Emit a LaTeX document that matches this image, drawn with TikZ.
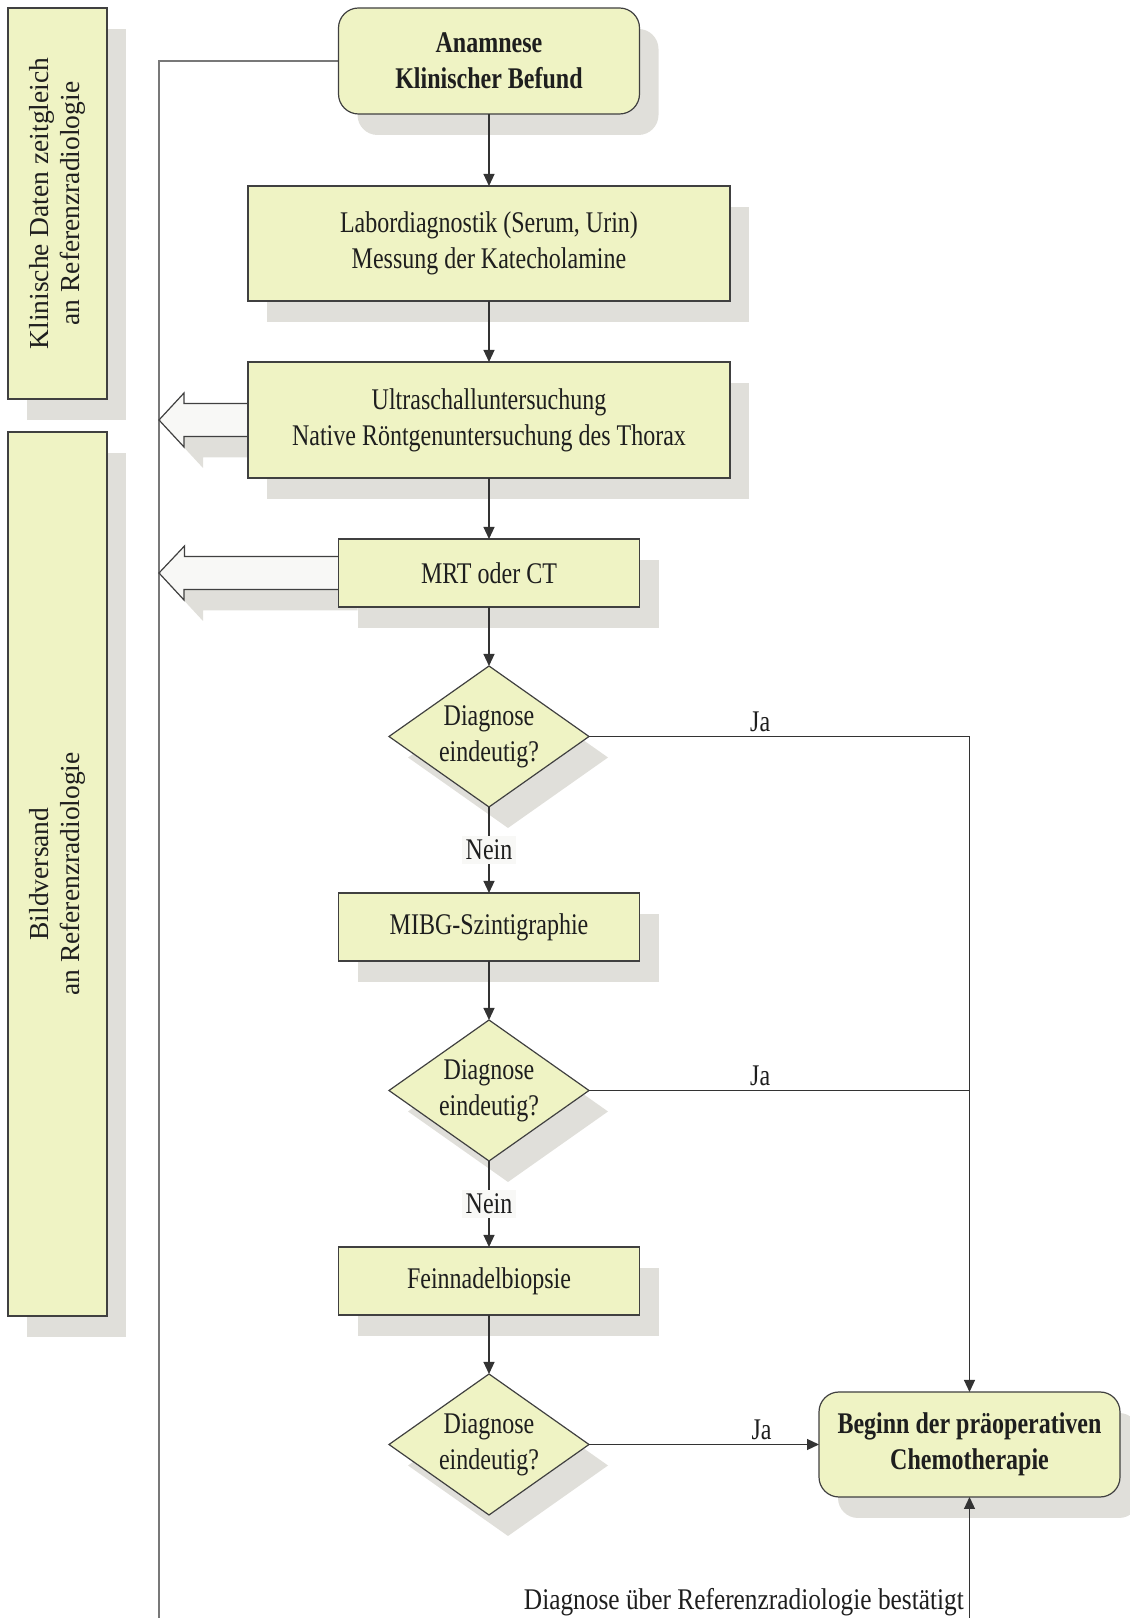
\documentclass[tikz,border=0pt]{standalone}
\usepackage{fontspec}
\setmainfont{Liberation Serif}
\newfontfamily\schmal{Liberation Serif}[FakeStretch=0.8]
\newfontfamily\halbschmal{Liberation Serif}[FakeStretch=0.845]
\usepackage{tikz}
\usetikzlibrary{positioning,shapes.geometric,shadows,arrows.meta,backgrounds}
\definecolor{hellgelb}{RGB}{239,243,196}
\definecolor{schatten}{RGB}{224,223,218}
\definecolor{randgrau}{RGB}{64,64,64}
\definecolor{liniengrau}{RGB}{51,51,51}
\definecolor{rueckgrau}{RGB}{120,120,120}
\definecolor{pfeilweiss}{RGB}{248,248,246}
\definecolor{schrift}{RGB}{30,30,30}
\tikzstyle{schattig}=[drop shadow={shadow xshift=19pt,shadow yshift=-21pt,fill=schatten,opacity=1}]
\tikzstyle{kasten}=[draw=randgrau,fill=hellgelb,rectangle,line width=1.2pt,inner sep=0pt,outer sep=0pt,align=center,schattig]
\tikzstyle{rundkasten}=[kasten,rounded corners=20pt,font=\schmal\bfseries\fontsize{30}{36}\selectfont]
\tikzstyle{raute}=[draw=randgrau,fill=hellgelb,diamond,aspect=1.42,minimum width=200pt,minimum height=141pt,inner sep=0pt,outer sep=0pt,line width=1.2pt,align=center,schattig]
\tikzstyle{pfeil}=[draw=liniengrau,line width=1.2pt,-{Triangle[length=12pt,width=11pt]}]
\tikzstyle{verbindung}=[draw=liniengrau,line width=1.2pt]
\tikzstyle{rueck}=[draw=rueckgrau,line width=1.4pt]
\tikzstyle{nein}=[fill=pfeilweiss,inner sep=4pt]
\tikzstyle{blockpfeil}=[draw=randgrau,fill=pfeilweiss,line width=1.2pt,schattig]
\tikzstyle{hochkant}=[kasten,minimum width=99pt]

\begin{document}
\begin{tikzpicture}[x=1pt,y=1pt,node distance=61pt,text=schrift,font=\schmal\fontsize{30}{36}\selectfont]
\useasboundingbox (0,0) rectangle (1130,1618);

% linke Spalte
\node[hochkant, minimum height=391pt] (klinik) at (57.5,1414.5) {\rotatebox{90}{\normalfont\fontsize{27.5}{31}\selectfont\begin{tabular}{@{}c@{}}Klinische Daten zeitgleich\\an Referenzradiologie\end{tabular}}};
\node[hochkant, minimum height=884pt] (bild) at (57.5,744) {\rotatebox{90}{\normalfont\fontsize{27.5}{31}\selectfont\begin{tabular}{@{}c@{}}Bildversand\\an Referenzradiologie\end{tabular}}};

% Ablauf
\node[rundkasten, minimum width=301pt, minimum height=106pt] (anam) at (489,1557) {Anamnese\\Klinischer Befund};
\node[kasten, minimum width=482pt, minimum height=115pt, below=72pt of anam] (labor) {Labordiagnostik (Serum, Urin)\\Messung der Katecholamine};
\node[kasten, minimum width=482pt, minimum height=116pt, below=of labor] (ultra) {Ultraschalluntersuchung\\Native Röntgenuntersuchung des Thorax};
\node[kasten, minimum width=301pt, minimum height=68pt, below=of ultra] (mrt) {MRT oder CT};
\node[raute, below=59pt of mrt] (frage1) {Diagnose\\eindeutig?};
\node[kasten, minimum width=301pt, minimum height=68pt, below=86pt of frage1] (mibg) {MIBG-Szintigraphie};
\node[raute, below=59pt of mibg] (frage2) {Diagnose\\eindeutig?};
\node[kasten, minimum width=301pt, minimum height=68pt, below=86pt of frage2] (biopsie) {Feinnadelbiopsie};
\node[raute, below=59pt of biopsie] (frage3) {Diagnose\\eindeutig?};
\node[rundkasten, minimum width=301pt, minimum height=105pt, right=230pt of frage3] (chemo) {Beginn der präoperativen\\Chemotherapie};

\coordinate (links) at (159,0);
\coordinate (unten) at (chemo.south |- links);

\begin{scope}[on background layer]
\draw[rueck] (anam.west) -| (links);
\draw[blockpfeil] ([yshift=16.5pt]ultra.west) -- ++(-64,0) -- ++(0,10.5) -- (ultra.west -| links) -- ++(25,-27) -- ++(0,10.5) -- ([yshift=-16.5pt]ultra.west);
\draw[blockpfeil] ([yshift=16.5pt]mrt.west) -- ++(-154,0) -- ++(0,10.5) -- (mrt.west -| links) -- ++(25,-27) -- ++(0,10.5) -- ([yshift=-16.5pt]mrt.west);
\end{scope}

\draw[pfeil] (anam) -- (labor);
\draw[pfeil] (labor) -- (ultra);
\draw[pfeil] (ultra) -- (mrt);
\draw[pfeil] (mrt) -- (frage1);
\draw[pfeil] (frage1) -- node[nein] {Nein} (mibg);
\draw[pfeil] (mibg) -- (frage2);
\draw[pfeil] (frage2) -- node[nein] {Nein} (biopsie);
\draw[pfeil] (biopsie) -- (frage3);

\draw[pfeil] (frage1.east) -- node[above, pos=0.45, inner sep=4pt] {Ja} (frage1.east -| chemo.north) -- (chemo.north);
\draw[verbindung] (frage2.east) -- node[above, pos=0.45, inner sep=4pt] {Ja} (frage2.east -| chemo.north);
\draw[pfeil] (frage3.east) -- node[above, pos=0.75, inner sep=4pt] {Ja} (frage3.east -| chemo.west);
\draw[pfeil] (unten) -- node[left, pos=0.13, inner sep=5pt, font=\halbschmal\fontsize{30}{36}\selectfont] {Diagnose über Referenzradiologie bestätigt} (chemo.south);
\end{tikzpicture}
\end{document}
